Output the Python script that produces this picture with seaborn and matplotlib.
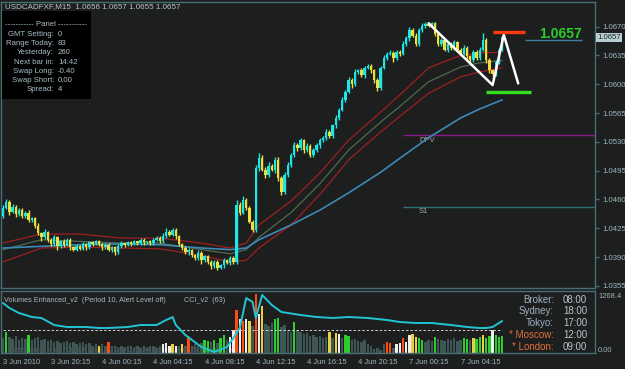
import numpy as np
import pandas as pd
import matplotlib
matplotlib.use("Agg")
import matplotlib.pyplot as plt
from matplotlib.patches import Rectangle
import seaborn as sns

# ---------------- data ----------------
symbol_title = "USDCADFXF,M15  1.0656 1.0657 1.0655 1.0657"
first_open = 1.0440
closes = [
    1.0450, 1.0457, 1.0445, 1.0451, 1.0442, 1.0447, 1.0440, 1.0444, 1.0435, 1.0437,
    1.0428, 1.0419, 1.0414, 1.0420, 1.0411, 1.0406, 1.0414, 1.0403, 1.0409, 1.0405,
    1.0411, 1.0402, 1.0399, 1.0403, 1.0400, 1.0406, 1.0402, 1.0408, 1.0406, 1.0409,
    1.0406, 1.0402, 1.0405, 1.0399, 1.0402, 1.0396, 1.0403, 1.0407, 1.0405, 1.0408,
    1.0406, 1.0409, 1.0407, 1.0411, 1.0408, 1.0409, 1.0407, 1.0411, 1.0413, 1.0409,
    1.0415, 1.0420, 1.0417, 1.0423, 1.0415, 1.0406, 1.0401, 1.0396, 1.0399, 1.0392,
    1.0389, 1.0395, 1.0386, 1.0391, 1.0384, 1.0379, 1.0384, 1.0377, 1.0380, 1.0386,
    1.0383, 1.0389, 1.0384, 1.0453, 1.0444, 1.0459, 1.0450, 1.0433, 1.0423, 1.0498,
    1.0510, 1.0496, 1.0490, 1.0501, 1.0496, 1.0508, 1.0486, 1.0469, 1.0490, 1.0502,
    1.0514, 1.0526, 1.0522, 1.0532, 1.0520, 1.0525, 1.0514, 1.0520, 1.0526, 1.0532,
    1.0535, 1.0542, 1.0537, 1.0550, 1.0559, 1.0569, 1.0581, 1.0591, 1.0605, 1.0600,
    1.0615, 1.0617, 1.0611, 1.0620, 1.0622, 1.0617, 1.0605, 1.0595, 1.0620, 1.0632,
    1.0637, 1.0638, 1.0632, 1.0639, 1.0637, 1.0649, 1.0656, 1.0666, 1.0659, 1.0649,
    1.0666, 1.0671, 1.0673, 1.0671, 1.0674, 1.0661, 1.0649, 1.0654, 1.0642, 1.0649,
    1.0644, 1.0651, 1.0642, 1.0637, 1.0644, 1.0634, 1.0629, 1.0639, 1.0632, 1.0642,
    1.0654, 1.0629, 1.0617, 1.0612, 1.0627, 1.0642, 1.0657,
]
upper_wick_pips = [
    3, 4, 2, 3, 2, 3, 2, 2, 3, 2,
    2, 3, 2, 4, 2, 2, 3, 2, 2, 3,
    2, 2, 1, 3, 2, 2, 1, 2, 2, 2,
    2, 1, 2, 2, 1, 2, 3, 2, 1, 2,
    2, 2, 1, 2, 2, 1, 2, 2, 3, 2,
    4, 5, 3, 2, 2, 2, 1, 2, 2, 1,
    2, 3, 2, 2, 1, 2, 3, 2, 2, 3,
    2, 2, 2, 6, 4, 5, 3, 2, 2, 4,
    6, 4, 3, 5, 2, 4, 3, 2, 3, 4,
    3, 4, 2, 3, 2, 3, 2, 3, 2, 3,
    2, 3, 2, 2, 3, 2, 3, 2, 4, 2,
    3, 2, 3, 2, 3, 2, 2, 3, 2, 3,
    2, 3, 2, 3, 2, 3, 2, 4, 2, 3,
    2, 3, 2, 3, 2, 2, 3, 2, 2, 3,
    2, 3, 2, 2, 4, 2, 2, 3, 2, 3,
    8, 2, 3, 2, 3, 2, 2,
]
lower_wick_pips = [
    3, 2, 4, 2, 3, 2, 3, 2, 2, 3,
    3, 2, 4, 2, 3, 2, 2, 5, 2, 3,
    2, 3, 2, 2, 1, 2, 3, 2, 2, 1,
    2, 3, 2, 2, 3, 4, 2, 2, 3, 2,
    2, 1, 2, 2, 3, 2, 2, 2, 1, 2,
    2, 2, 1, 2, 3, 2, 3, 2, 4, 2,
    3, 2, 4, 2, 3, 4, 2, 3, 2, 3,
    2, 3, 2, 2, 3, 2, 3, 2, 3, 2,
    3, 2, 4, 3, 2, 4, 3, 4, 2, 3,
    3, 2, 3, 2, 4, 2, 3, 2, 2, 3,
    2, 3, 2, 2, 3, 2, 2, 3, 2, 4,
    2, 3, 2, 3, 2, 3, 4, 3, 2, 2,
    3, 2, 5, 2, 3, 2, 2, 3, 2, 3,
    2, 2, 3, 2, 2, 3, 2, 3, 2, 3,
    2, 3, 2, 3, 2, 3, 4, 2, 3, 2,
    2, 3, 3, 4, 2, 3, 2,
]
volumes = [
    320, 460, 345, 300, 370, 275, 320, 300, 390, 275,
    320, 345, 275, 300, 255, 275, 230, 255, 205, 230,
    255, 205, 230, 185, 205, 230, 185, 205, 160, 185,
    140, 185, 160, 230, 140, 160, 115, 140, 115, 160,
    140, 115, 140, 115, 140, 115, 160, 140, 115, 140,
    185, 205, 160, 185, 140, 160, 185, 140, 345, 160,
    185, 140, 205, 275, 255, 230, 275, 205, 320, 390,
    275, 345, 505, 920, 735, 690, 735, 690, 575, 1268,
    830, 1010, 620, 575, 645, 735, 760, 550, 600, 505,
    460, 665, 505, 460, 415, 435, 370, 390, 345, 370,
    320, 345, 460, 320, 435, 415, 320, 390, 370, 275,
    300, 255, 230, 275, 185, 140, 90, 115, 70, 185,
    230, 205, 115, 185, 205, 320, 230, 390, 415, 345,
    320, 275, 230, 275, 255, 345, 300, 275, 255, 300,
    275, 320, 255, 275, 320, 300, 275, 320, 300, 345,
    390, 320, 370, 505, 390, 345, 370,
]
volume_kind = "".join([
    "ngnnnnnngn", "nnnnnnnnnn", "nnnnnnnnnn", "ynnrnnnnnn", "nnnnnnnnnn",
    "wwwywnynrn", "nnnggngngg", "nwwrwrwynr", "wynnnggnnn", "ngnnnnnnnn",
    "nnynywnggn", "nnnnnnnnnn", "rrnwwrwwyy", "ggnnngnnnn", "nnnnggnygg",
    "yggwggg",
])
volume_max_label = "1268.4"

time_tick_idx = [0, 15, 31, 47, 63, 79, 95, 111, 127, 143]
time_tick_labels = ["3 Jun 2010", "3 Jun 20:15", "4 Jun 00:15", "4 Jun 04:15",
                    "4 Jun 08:15", "4 Jun 12:15", "4 Jun 16:15", "4 Jun 20:15",
                    "7 Jun 00:15", "7 Jun 04:15"]
price_ticks = [1.0670, 1.0635, 1.0600, 1.0565, 1.0530, 1.0495, 1.0460, 1.0425, 1.0390, 1.0355]
current_price = 1.0657

ma_idx = [0, 12, 24, 37, 49, 62, 71, 76, 80, 90, 99, 108, 118, 124, 133, 143, 149, 156]
ma_slow_blue = [1.0401, 1.0403, 1.0405, 1.0406, 1.0405, 1.0401, 1.0399, 1.0401, 1.0411,
                1.0429, 1.0447, 1.0468, 1.0493, 1.0510, 1.0535, 1.0559, 1.0570, 1.0581]
ma_mid_green = [1.0399, 1.0411, 1.0409, 1.0407, 1.0407, 1.0399, 1.0394, 1.0399, 1.0414,
                1.0444, 1.0479, 1.0520, 1.0554, 1.0573, 1.0603, 1.0621, 1.0626, 1.0629]
ma_upper_red = [1.0407, 1.0418, 1.0418, 1.0413, 1.0413, 1.0407, 1.0401, 1.0407, 1.0429,
                1.0458, 1.0492, 1.0532, 1.0566, 1.0587, 1.0620, 1.0635, 1.0638, 1.0639]
ma_lower_red = [1.0384, 1.0401, 1.0402, 1.0401, 1.0400, 1.0392, 1.0384, 1.0386, 1.0401,
                1.0429, 1.0466, 1.0508, 1.0542, 1.0561, 1.0589, 1.0609, 1.0615, 1.0620]

zigzag_idx = [133, 153, 156.5, 161]
zigzag_price = [1.0674, 1.0599, 1.0660, 1.0601]
resist_idx = [153, 163]
resist_price = 1.0663
support_idx = [151, 165]
support_price = 1.0591

pivot_names = ["DPV", "S1"]
pivot_prices = [1.0538, 1.0451]
pivot_colors = ["#8a1a8a", "#2c7070"]
pivot_start = 125

cci_idx = [0, 2, 5, 9, 12, 16, 20, 26, 30, 33, 39, 43, 48, 51, 53, 54, 57, 62, 66, 70, 72, 74,
           76, 78, 79, 81, 84, 87, 93, 98, 103, 108, 114, 120, 124, 129, 134, 140, 145, 149,
           151, 153, 155, 156]
cci_val = [270, 220, 170, 130, 120, 50, 30, 30, 20, 20, 30, 50, 50, 100, 130, 50, -50, -170,
           -220, -170, -80, 20, 320, 280, 120, 350, 250, 180, 150, 130, 120, 130, 120, 100, 80,
           70, 70, 50, 30, 20, 20, 30, 70, 90]

panel_labels = ["GMT Setting:", "Range Today:", "Yesterday:", "Next bar in:",
                "Swap Long:", "Swap Short:", "Spread:"]
panel_values = ["0", "83", "260", "14:42", "-0.40", "0.00", "4"]
clock_labels = ["Broker:", "Sydney:", "Tokyo:", "* Moscow:", "* London:"]
clock_times = ["08:00", "18:00", "17:00", "12:00", "09:00"]

# ---------------- style ----------------
BG = "#1d1f1f"
FRAME = "#4a6c74"
AXTXT = "#9fb6be"
BULL = "#1fe6e6"
BEAR = "#f0de3a"
VOLC = {"n": "#3e5656", "g": "#2fcc2f", "r": "#ff4a12", "y": "#e8d040", "w": "#eeeeee"}

sns.set_style("dark", rc={"axes.facecolor": BG, "figure.facecolor": BG})
plt.rcParams["font.family"] = ["Liberation Sans", "DejaVu Sans"]

W, H = 625, 369
fig = plt.figure(figsize=(W / 100, H / 100), dpi=100, facecolor=BG)


def fx(x):
    return x / W


def fy(y):
    return 1 - y / H


ax = fig.add_axes([fx(1), fy(288), fx(595) - fx(1), fy(2) - fy(288)])
axv = fig.add_axes([fx(1), fy(353), fx(595) - fx(1), fy(291) - fy(353)])
for a in (ax, axv):
    a.set_facecolor(BG)
    for s in a.spines.values():
        s.set_color(FRAME)
        s.set_linewidth(1)
    a.grid(False)

n = min(len(closes), len(upper_wick_pips), len(lower_wick_pips), len(volumes), len(volume_kind))
idx = np.arange(n)
c = np.array(closes[:n])
o = np.concatenate([[first_open], c[:-1]])
hi = np.maximum(o, c) + np.array(upper_wick_pips[:n]) * 0.0001
lo = np.minimum(o, c) - np.array(lower_wick_pips[:n]) * 0.0001
cols = [BULL if cc >= oo else BEAR for oo, cc in zip(o, c)]

XL = (-0.625, 185)
ax.set_xlim(*XL)
ax.set_ylim(1.03524, 1.06999)

# pivot lines
for name, p, col in zip(pivot_names, pivot_prices, pivot_colors):
    ax.hlines(p, pivot_start, XL[1], colors=col, lw=1, zorder=1)
    ax.text(pivot_start + 5, p - 0.0002, name, color="#a8a8a8", fontsize=5.5,
            va="top", ha="left", zorder=1)

# moving averages
df_ma = pd.DataFrame({"i": ma_idx, "blue": ma_slow_blue, "green": ma_mid_green,
                      "up": ma_upper_red, "low": ma_lower_red})
sns.lineplot(data=df_ma, x="i", y="up", ax=ax, color="#a01e1e", lw=0.9, zorder=2)
sns.lineplot(data=df_ma, x="i", y="green", ax=ax, color="#4f6a4f", lw=0.9, zorder=2)
sns.lineplot(data=df_ma, x="i", y="low", ax=ax, color="#a01e1e", lw=0.9, zorder=2)
sns.lineplot(data=df_ma, x="i", y="blue", ax=ax, color="#3d88b4", lw=1.2, zorder=2)

# candles
ax.vlines(idx, lo, hi, colors=cols, lw=1.0, zorder=3)
body = np.maximum(np.abs(c - o), 0.00006)
ax.bar(idx, body, bottom=np.minimum(o, c), width=0.78, color=cols, linewidth=0, zorder=4)

# zigzag & levels
sns.lineplot(x=zigzag_idx, y=zigzag_price, ax=ax, color="white", lw=1.8, sort=False,
             estimator=None, zorder=6)
ax.hlines(resist_price, resist_idx[0], resist_idx[1], colors="#ff3a0a", lw=2.4, zorder=6)
ax.hlines(support_price, support_idx[0], support_idx[1], colors="#33dd22", lw=2.4, zorder=6)
ax.hlines(current_price - 0.0003, 163, 181, colors="#3f7f9f", lw=1, zorder=6)
ax.text(167.5, current_price + 0.0004, f"{current_price:.4f}", color="#2bcc2b", fontsize=10,
        fontweight="bold", va="center", ha="left", zorder=6)

# right price axis
ax.yaxis.tick_right()
ax.set_yticks(price_ticks)
ax.set_yticklabels([f"{p:.4f}" for p in price_ticks])
ax.tick_params(axis="y", colors=FRAME, labelcolor=AXTXT, labelsize=5.6, length=3,
               width=1, pad=2, direction="out")
ax.tick_params(axis="x", bottom=False, labelbottom=False)
ax.set_xlabel("")
ax.set_ylabel("")
fig.text(fx(597), fy(37.5), f"{current_price:.4f}", fontsize=5.6, color="#1a2a30",
         va="center", ha="left",
         bbox=dict(boxstyle="square,pad=0.15", fc="#b9cdd4", ec="none"))

# ---------------- sub window ----------------
axv.set_xlim(*XL)
axv.set_ylim(0, 1333)
axv.text(2, 70, "MetaTrader 4 at FOREX.com, \u00a9 2001-2010 MetaQuotes Software Corp.",
         color="#56605f", fontsize=5.2, va="center", ha="left", zorder=0)
axv.bar(idx, volumes[:n], width=0.7, color=[VOLC[k] for k in volume_kind[:n]],
        linewidth=0, zorder=2)
axv.set_yticks([])
axv.set_xticks(time_tick_idx)
axv.set_xticklabels(time_tick_labels)
for lbl in axv.get_xticklabels():
    lbl.set_ha("left")
axv.tick_params(axis="x", colors=FRAME, labelcolor=AXTXT, labelsize=5.4, length=3,
                width=1, pad=1.5, direction="out")
axv.set_xlabel("")
axv.set_ylabel("")

axc = axv.twinx()
axc.set_ylim(-230, 390)
axc.set_xlim(*XL)
axc.hlines(0, 0, n - 1, colors="#cfcfcf", lw=0.7, linestyles=(0, (2.5, 2)), zorder=3)
sns.lineplot(x=cci_idx, y=cci_val, ax=axc, color="#22c4d4", lw=1.4, estimator=None, zorder=4)
axc.set_yticks([])
axc.set_ylabel("")
for s in axc.spines.values():
    s.set_visible(False)

fig.text(fx(4), fy(300), "Volumes Enhanced_v2  (Period 10, Alert Level off)",
         color="#a9b9c0", fontsize=5.2, va="center", ha="left")
fig.text(fx(184), fy(300), "CCI_v2  (63)", color="#a9b9c0", fontsize=5.2,
         va="center", ha="left")
fig.text(fx(598), fy(297), volume_max_label, color=AXTXT, fontsize=5.4, va="center", ha="left")
fig.text(fx(598), fy(350), "0.00", color=AXTXT, fontsize=5.4, va="center", ha="left")

clock_y = [300, 311.5, 323, 335, 347]
for lab, t, yy in zip(clock_labels, clock_times, clock_y):
    lc = "#e0703c" if lab.startswith("*") else "#9fb2c2"
    fig.text(fx(554), fy(yy), lab, color=lc, fontsize=7, va="center", ha="right")
    fig.text(fx(563), fy(yy), t, color="#b8c4cc", fontsize=7, va="center", ha="left")

# ---------------- overlays ----------------
fig.text(fx(5), fy(7), symbol_title, color="#b5c7cf", fontsize=5.8, va="center", ha="left")
fig.add_artist(Rectangle((fx(2), fy(99)), fx(91) - fx(2), fy(11) - fy(99),
                         transform=fig.transFigure, fc="black", ec="none", zorder=2))
fig.text(fx(46), fy(25), "----------- Panel -----------", color="#a9bfc6", fontsize=5.6,
         va="center", ha="center", zorder=3)
for k, (lab, val) in enumerate(zip(panel_labels, panel_values)):
    yy = 34.5 + k * 9.2
    fig.text(fx(54), fy(yy), lab, color="#a9bfc6", fontsize=5.6, va="center", ha="right", zorder=3)
    fig.text(fx(58), fy(yy), val, color="#a9bfc6", fontsize=5.6, va="center", ha="left", zorder=3)

fig.savefig("out.png", dpi=100, facecolor=BG)
